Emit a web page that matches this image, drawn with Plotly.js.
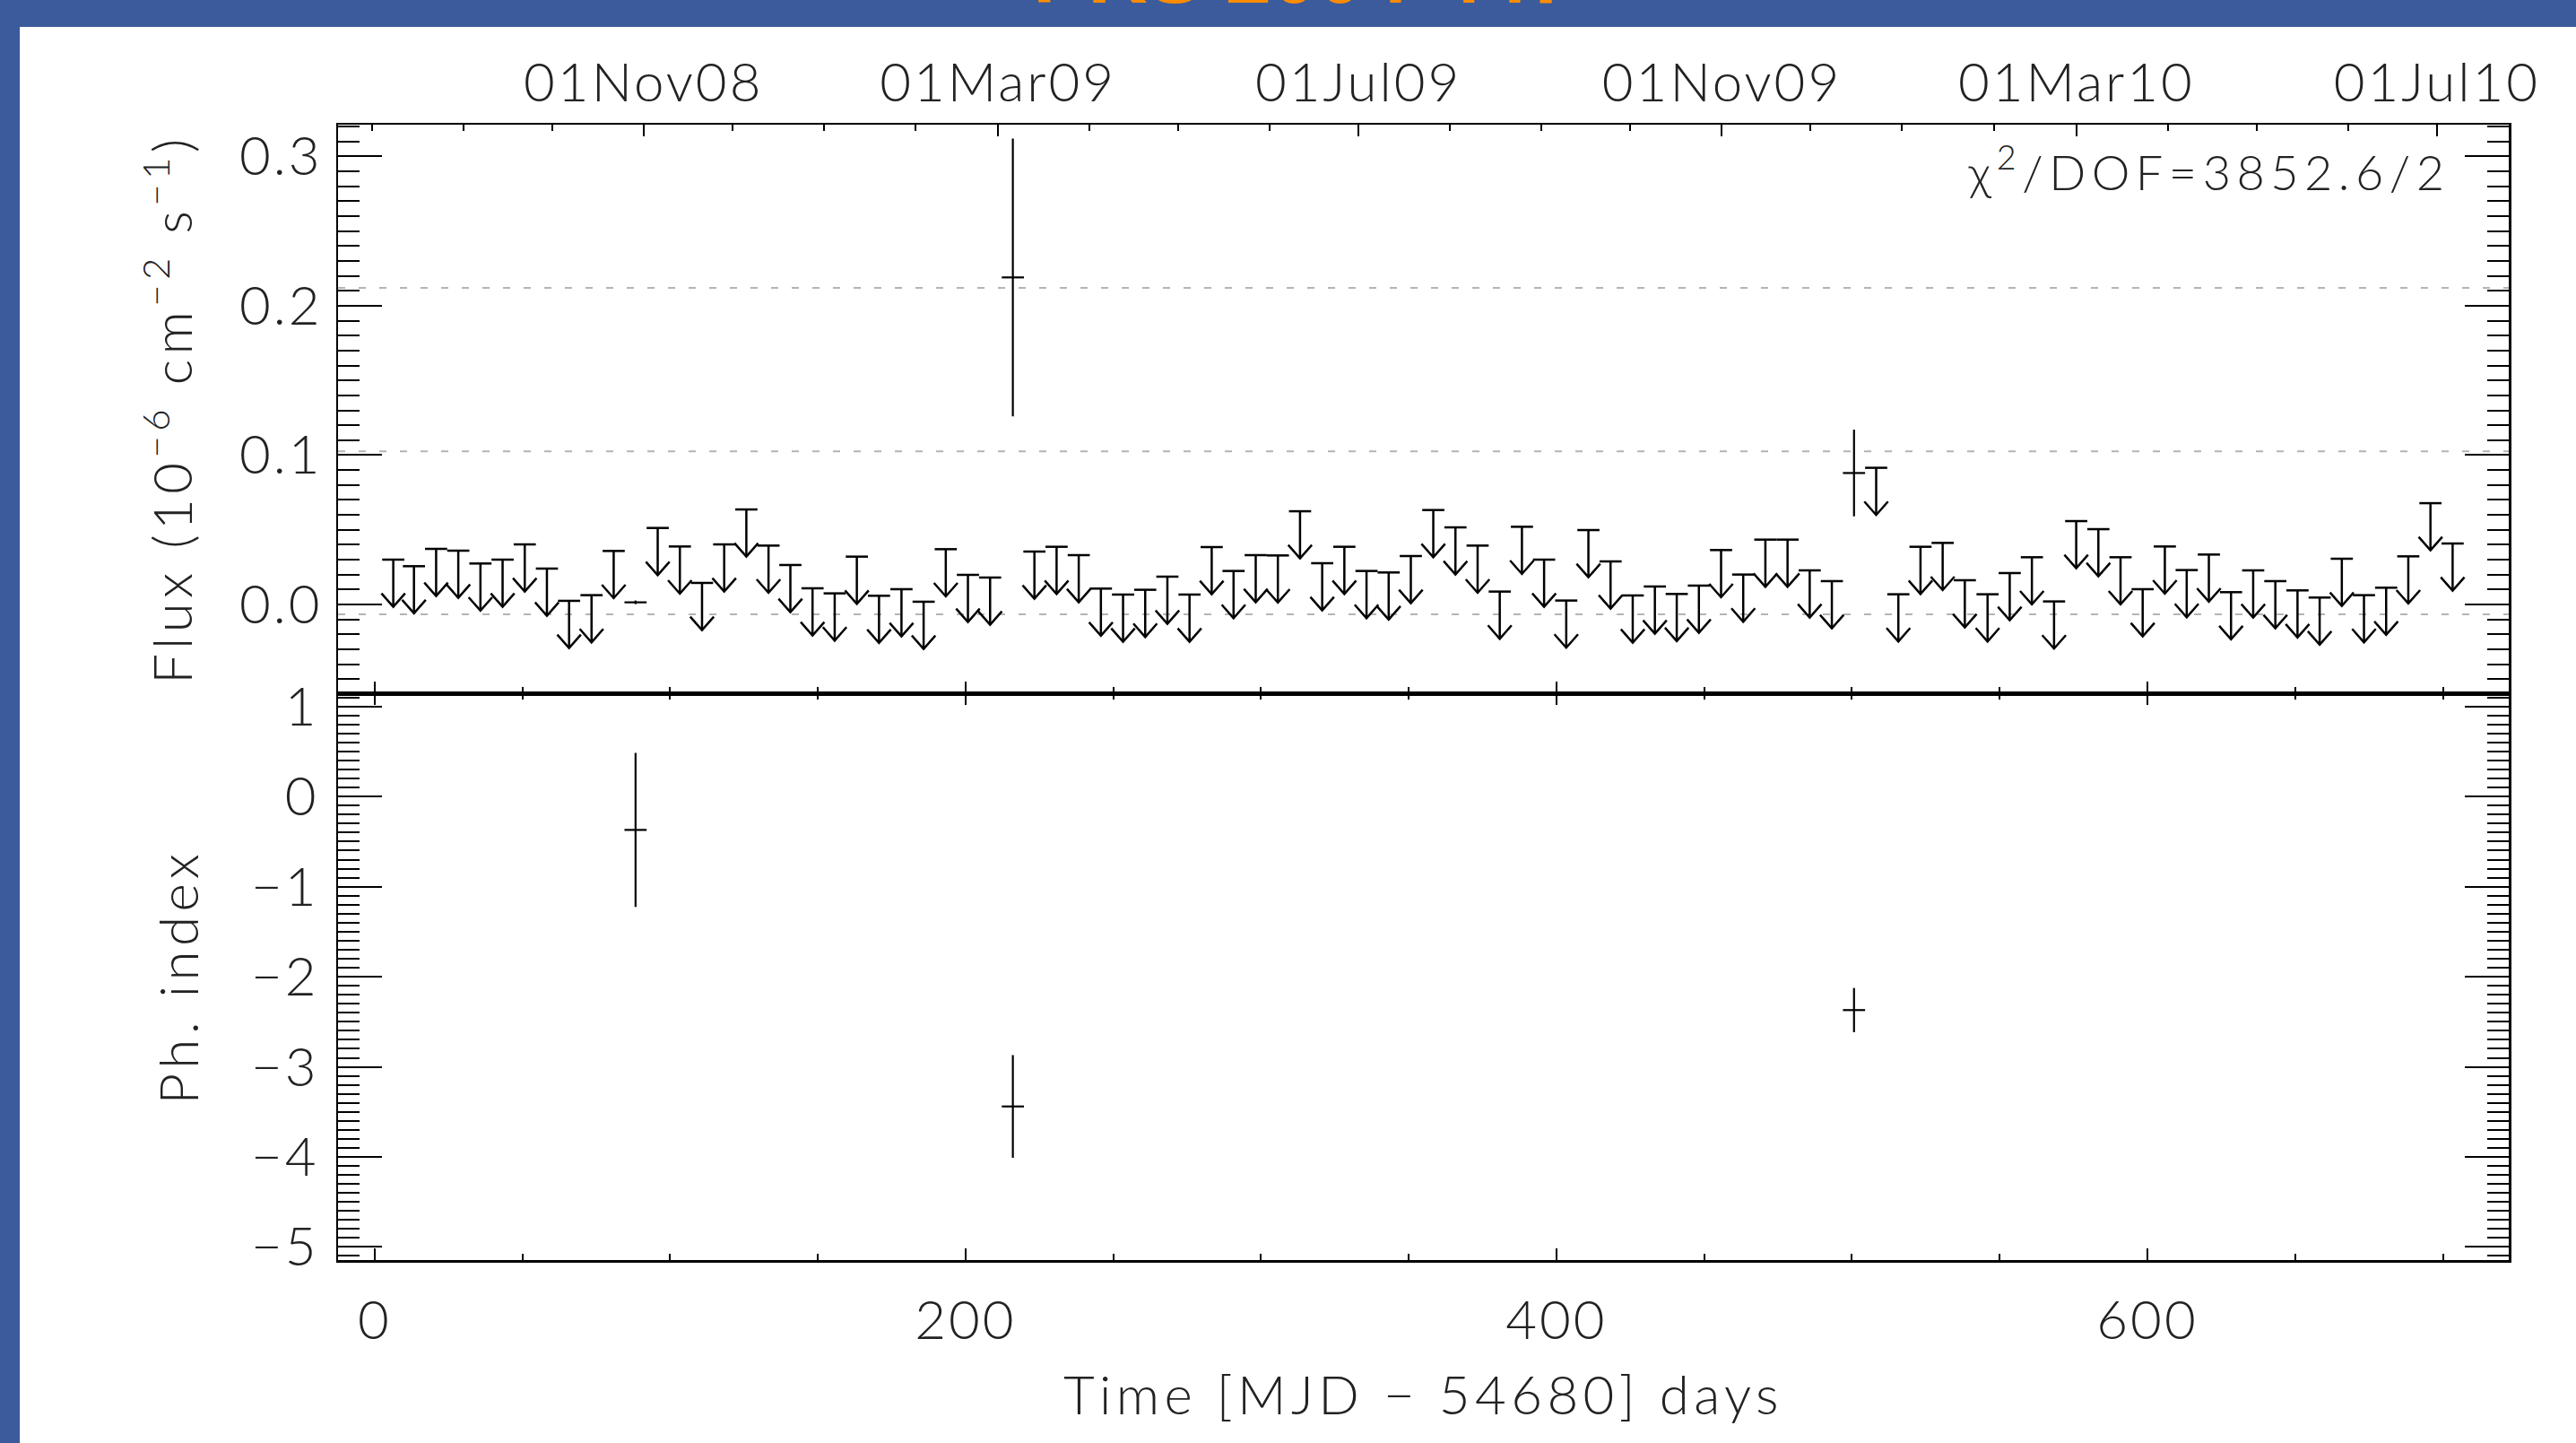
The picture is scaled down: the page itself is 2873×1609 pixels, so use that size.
<!DOCTYPE html>
<html><head><meta charset="utf-8">
<script src="https://cdn.plot.ly/plotly-3.0.1.min.js"></script>
<style>
html,body{margin:0;padding:0;background:#3b5b9c;}
#chart{width:2873px;height:1609px;}
#chart g[class$="tick"] text{letter-spacing:0.05em;}
#chart g[class^="g-x"] text, #chart g[class^="g-y"] text{letter-spacing:0.09em;}
#chart .annotation.chi text{letter-spacing:0.12em;}
</style>
</head><body><div id="chart"></div>
<script>
// ---- data ----
const ulDay = [6.3,13.3,20.8,28.3,35.8,43.3,50.8,58.3,65.8,73.4,
  80.9,95.8,103.3,110.8,118.3,125.8,133.3,140.7,148.2,155.7,
  163.2,170.7,178.3,185.8,193.3,200.8,208.3,223.3,230.8,238.3,
  245.8,253.3,260.8,268.3,275.8,283.3,290.7,298.2,305.7,313.2,
  320.7,328.2,335.7,343.2,350.7,358.3,365.8,373.3,380.8,388.3,
  395.8,403.3,410.8,418.3,425.8,433.3,440.7,448.2,455.7,463.2,
  470.7,478.2,485.7,493.2,508.2,515.7,523.2,530.7,538.2,545.9,
  553.4,560.9,568.4,575.9,583.4,590.9,598.4,605.9,613.3,620.8,
  628.3,635.8,643.3,650.8,658.3,665.8,673.3,680.8,688.3,695.8,703.3];
const ulFlux = [0.030,0.0256,0.0372,0.036,0.0274,0.030,0.0402,0.024,0.0024,0.0062,
  0.0358,0.0512,0.0388,0.0144,0.0402,0.0636,0.0394,0.0264,0.0108,0.0074,
  0.032,0.0058,0.0102,0.0018,0.037,0.0198,0.018,0.0354,0.0386,0.033,
  0.0106,0.0066,0.0098,0.0186,0.0066,0.0384,0.0224,0.033,0.0328,0.0624,
  0.0276,0.0386,0.0224,0.0214,0.0324,0.0632,0.0516,0.0394,0.0086,0.052,
  0.030,0.0026,0.0498,0.0288,0.006,0.012,0.007,0.0126,0.0364,0.020,
  0.0434,0.0434,0.0228,0.0156,0.0915,0.0068,0.0386,0.0412,0.0162,0.0068,
  0.021,0.0316,0.002,0.0558,0.0504,0.0316,0.0102,0.0388,0.023,0.0334,
  0.0082,0.0228,0.0156,0.0094,0.0046,0.0306,0.0062,0.0112,0.0322,0.0678,0.0408];
const detDay = [88.3, 216.0, 500.7];
const detFlux = [0.0014, 0.219, 0.088];
const detFluxErr = [0.0012, 0.093, 0.029];
const idxDay = [88.3, 216.0, 500.7];
const idxVal = [-0.37, -3.44, -2.37];
const idxErr = [0.855, 0.57, 0.245];
const refLevels = [-0.0066, 0.1025, 0.212];
const dateTickDays = [91, 211, 333, 456, 576, 698];
const dateTickText = ['01Nov08','01Mar09','01Jul09','01Nov09','01Mar10','01Jul10'];
const monthTickDays = [-1,30,60,121,152,183,242,272,303,364,395,425,486,517,548,607,637,668];
const dayTicks = [0, 200, 400, 600];
const fluxTicks = [0, 0.1, 0.2, 0.3];
const fluxTickText = ['0.0','0.1','0.2','0.3'];
const idxTicks = [-5, -4, -3, -2, -1, 0, 1];
const binHalf = 3.75;
const chi2Text = 'χ<sup>2</sup>/DOF=3852.6/2';
const sourceName = 'PKS 2004-447';

// ---- style ----
const arrowLen = 0.0316, headHalf = 4.0, headH = 0.009;
const xRange = [-12.4, 722.3];
const FONT = 'Lato, "Open Sans", "DejaVu Sans", sans-serif';
const INK = '#000';

const ax = [], ay = [];
ulDay.forEach((d, i) => {
  const u = ulFlux[i], tip = u - arrowLen;
  ax.push(d - binHalf, d + binHalf, null, d, d, null, d - headHalf, d, d + headHalf, null);
  ay.push(u, u, null, u, tip, null, tip + headH, tip, tip + headH, null);
});

const traces = [
  {x: ax, y: ay, mode: 'lines', line: {color: INK, width: 2.5}, xaxis: 'x', yaxis: 'y', hoverinfo: 'skip', name: 'upper limits'},
  {x: detDay, y: detFlux, mode: 'markers', marker: {size: 1, color: INK}, xaxis: 'x', yaxis: 'y',
   error_y: {type: 'data', array: detFluxErr, color: INK, thickness: 2.2, width: 0},
   error_x: {type: 'constant', value: binHalf, color: INK, thickness: 2.2, width: 0}, name: 'flux'},
  {x: idxDay, y: idxVal, mode: 'markers', marker: {size: 1, color: INK}, xaxis: 'x2', yaxis: 'y2',
   error_y: {type: 'data', array: idxErr, color: INK, thickness: 2.2, width: 0},
   error_x: {type: 'constant', value: binHalf, color: INK, thickness: 2.2, width: 0}, name: 'index'},
  {x: [dateTickDays[0]], y: [refLevels[0]], mode: 'markers', marker: {opacity: 0}, xaxis: 'x3', yaxis: 'y', hoverinfo: 'skip'}
];

const tickFont = {family: FONT, size: 60, color: '#222', weight: 300};
const titleFont = {family: FONT, size: 60, color: '#222', weight: 300};
const baseX = {range: xRange, showgrid: false, zeroline: false, showline: true, linecolor: INK, linewidth: 2.5,
  ticks: 'inside', ticklen: 13, tickwidth: 2, tickcolor: INK, tickfont: tickFont};

const shapes = [
  {type: 'rect', xref: 'paper', yref: 'paper', x0: -0.1466, x1: 1.04, y0: -0.17, y1: 1.0861,
   fillcolor: '#ffffff', line: {width: 0}, layer: 'below'}
];
refLevels.forEach(v => shapes.push({type: 'line', xref: 'x domain', yref: 'y', x0: 0, x1: 1, y0: v, y1: v,
  line: {color: '#b4b4b4', width: 2, dash: '8px,15px'}, layer: 'below'}));

const layout = {
  width: 2873, height: 1609,
  paper_bgcolor: '#3b5b9c', plot_bgcolor: 'rgba(0,0,0,0)',
  margin: {l: 377, r: 75, t: 139, b: 204, pad: 0},
  showlegend: false,
  font: {family: FONT, size: 60, color: '#222', weight: 300},
  xaxis: Object.assign({}, baseX, {domain: [0, 1], anchor: 'y', tickmode: 'array', tickvals: dayTicks, showticklabels: false,
    minor: {tick0: 0, dtick: 50, ticks: 'inside', ticklen: 7, tickwidth: 2, tickcolor: INK}}),
  xaxis3: Object.assign({}, baseX, {overlaying: 'x', side: 'top', anchor: 'y', tickmode: 'array',
    tickvals: dateTickDays, ticktext: dateTickText, ticklabelstandoff: 0,
    minor: {tickmode: 'array', tickvals: monthTickDays, ticks: 'inside', ticklen: 7, tickwidth: 2, tickcolor: INK}}),
  xaxis2: Object.assign({}, baseX, {domain: [0, 1], anchor: 'y2', mirror: 'ticks', tickmode: 'array', tickvals: dayTicks,
    ticklabelstandoff: 13,
    minor: {tick0: 0, dtick: 50, ticks: 'inside', ticklen: 7, tickwidth: 2, tickcolor: INK},
    title: {text: 'Time [MJD − 54680] days', font: titleFont, standoff: 31}}),
  yaxis: {domain: [0.4992, 1], anchor: 'x', range: [-0.0595, 0.3213], tickmode: 'array', tickvals: fluxTicks, ticktext: fluxTickText,
    showgrid: false, zeroline: false, showline: true, linecolor: INK, linewidth: 2.5, mirror: 'ticks',
    ticks: 'inside', ticklen: 49, tickwidth: 2, tickcolor: INK, tickfont: tickFont, ticklabelstandoff: 3,
    minor: {tick0: 0, dtick: 0.01, ticks: 'inside', ticklen: 24, tickwidth: 2, tickcolor: INK},
    title: {text: 'Flux (10<sup>−6</sup> cm<sup>−2</sup> s<sup>−1</sup>)', font: titleFont, standoff: 42}},
  yaxis2: {domain: [0, 0.4992], anchor: 'x2', range: [-5.145, 1.147], tickmode: 'array', tickvals: idxTicks,
    showgrid: false, zeroline: false, showline: true, linecolor: INK, linewidth: 2.5, mirror: 'ticks',
    ticks: 'inside', ticklen: 49, tickwidth: 2, tickcolor: INK, tickfont: tickFont, ticklabelstandoff: 7,
    minor: {tick0: 0, dtick: 0.1, ticks: 'inside', ticklen: 24, tickwidth: 2, tickcolor: INK},
    title: {text: 'Ph. index', font: titleFont, standoff: 45}},
  shapes: shapes,
  annotations: [
    {text: chi2Text, xref: 'paper', yref: 'paper', x: 0.862, y: 0.9613, xanchor: 'center', yanchor: 'middle',
     showarrow: false, font: {family: FONT, size: 54, color: '#222', weight: 300}, name: 'chi'},
    {text: sourceName, xref: 'paper', yref: 'paper', x: 0.445, y: 1.1327, xanchor: 'center', yanchor: 'middle',
     showarrow: false, font: {family: '"Liberation Sans", Arial, sans-serif', size: 92, color: '#ff8c00', weight: 700}}
  ]
};

Plotly.newPlot('chart', traces, layout, {displayModeBar: false, staticPlot: true}).then(gd => {
  // mark the chi2 annotation so its spacing style applies
  const ann = gd.querySelectorAll('.annotation');
  if (ann.length) ann[0].classList.add('chi');
});
</script>
</body></html>
